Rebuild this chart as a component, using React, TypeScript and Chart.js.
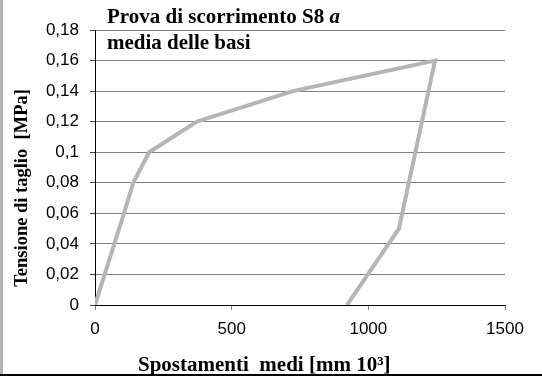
import React, { useEffect, useRef } from "react";
import { Chart, registerables } from "chart.js";

Chart.register(...registerables);

const displacement = [0, 106, 140, 198, 373, 724, 1244, 1112, 922];
const shearStress = [0, 0.06, 0.08, 0.1, 0.12, 0.14, 0.16, 0.05, 0];
const yTicks = [0, 0.02, 0.04, 0.06, 0.08, 0.1, 0.12, 0.14, 0.16, 0.18];
const xTicks = [0, 500, 1000, 1500];
const titleLine1 = "Prova di scorrimento S8 ";
const titleItalic = "a";
const titleLine2 = "media delle basi";
const yTitle = "Tensione di taglio  [MPa]";
const xTitle = "Spostamenti  medi [mm 10³]";

export default function App() {
  const ref = useRef<HTMLCanvasElement | null>(null);
  useEffect(() => {
    if (!ref.current) return;
    const points = displacement.map((x, i) => ({ x, y: shearStress[i] }));
    const chart = new Chart(ref.current, {
      type: "scatter",
      data: {
        datasets: [
          {
            data: points,
            showLine: true,
            borderColor: "#b5b5b5",
            borderWidth: 4,
            pointRadius: 0,
            fill: false,
            tension: 0,
          },
        ],
      },
      options: {
        animation: false,
        responsive: false,
        maintainAspectRatio: false,
        layout: { padding: { top: 30, right: 37, left: 0, bottom: 0 } },
        plugins: { legend: { display: false }, tooltip: { enabled: false }, title: { display: false } },
        scales: {
          x: {
            type: "linear",
            min: 0,
            max: 1500,
            afterBuildTicks: (s: any) => {
              s.ticks = xTicks.map((v) => ({ value: v }));
            },
            afterFit: (s: any) => {
              s.height = 71;
            },
            grid: { drawOnChartArea: false, drawTicks: true, tickLength: 5, tickColor: "#808080" },
            border: { display: true, color: "#000", width: 1 },
            ticks: {
              color: "#000",
              padding: 9,
              maxRotation: 0,
              font: { family: "'Liberation Sans', Arial, sans-serif", size: 17 },
              callback: (v: any) => String(v),
            },
          },
          y: {
            type: "linear",
            min: 0,
            max: 0.18,
            afterBuildTicks: (s: any) => {
              s.ticks = yTicks.map((v) => ({ value: v }));
            },
            afterFit: (s: any) => {
              s.width = 95;
            },
            grid: { color: "#808080", lineWidth: 1, drawTicks: true, tickLength: 5, tickColor: "#404040" },
            border: { display: true, color: "#000", width: 1 },
            ticks: {
              color: "#000",
              padding: 11,
              font: { family: "'Liberation Sans', Arial, sans-serif", size: 17 },
              callback: (v: any) => {
                const n = Math.round(Number(v) * 100) / 100;
                return String(n).replace(".", ",");
              },
            },
          },
        },
      },
    });
    return () => chart.destroy();
  }, []);

  const serifBold: React.CSSProperties = {
    position: "absolute",
    fontFamily: "'Liberation Serif', 'Times New Roman', serif",
    fontWeight: "bold",
    color: "#000",
    whiteSpace: "pre",
    lineHeight: "1",
  };

  return (
    <div style={{ position: "absolute", left: 0, top: 0, width: 542, height: 376, background: "#fff", overflow: "hidden" }}>
      <canvas ref={ref} width={542} height={376} style={{ position: "absolute", left: 0, top: 0, width: 542, height: 376 }} />
      <div style={{ position: "absolute", left: 0, top: 0, width: 3, height: 374, background: "#b3b3b3" }} />
      <div style={{ position: "absolute", left: 0, top: 374, width: 542, height: 2, background: "#000" }} />
      <div style={{ ...serifBold, left: 107, top: 6, fontSize: 21 }}>
        {titleLine1}
        <i>{titleItalic}</i>
      </div>
      <div style={{ ...serifBold, left: 107, top: 32, fontSize: 21 }}>{titleLine2}</div>
      <div
        style={{
          ...serifBold,
          left: 21,
          top: 188,
          fontSize: 18.5,
          transform: "translate(-50%, -50%) rotate(-90deg)",
        }}
      >
        {yTitle}
      </div>
      <div style={{ ...serifBold, left: 138, top: 354, fontSize: 21 }}>{xTitle}</div>
    </div>
  );
}
